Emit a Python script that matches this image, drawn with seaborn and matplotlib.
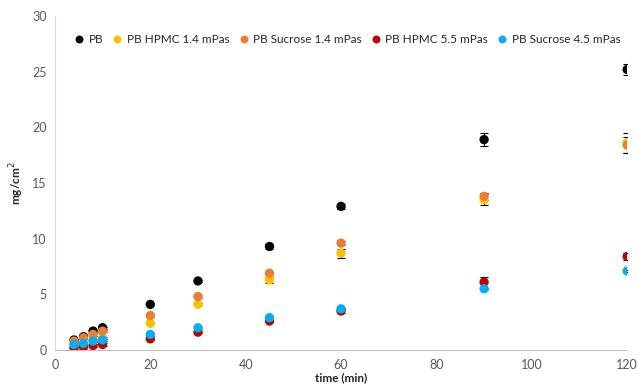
import numpy as np
import pandas as pd
import matplotlib
matplotlib.use("Agg")
import matplotlib.pyplot as plt
import seaborn as sns

# tempos de amostragem (min)
tempo = [4, 6, 8, 10, 20, 30, 45, 60, 90, 120]

# valores (mg/cm2)
pb = [0.9, 1.2, 1.7, 2.0, 4.1, 6.2, 9.3, 12.9, 18.9, 25.2]
pb_hpmc_14 = [0.5, 0.2, 0.9, 1.1, 2.4, 4.1, 6.3, 8.7, 13.5, 18.6]
pb_sucrose_14 = [0.8, 1.1, 1.4, 1.7, 3.1, 4.8, 6.9, 9.6, 13.8, 18.4]
pb_hpmc_55 = [0.2, 0.3, 0.4, 0.5, 1.0, 1.6, 2.6, 3.5, 6.1, 8.4]
pb_sucrose_45 = [0.5, 0.6, 0.8, 0.9, 1.4, 2.0, 2.9, 3.7, 5.5, 7.1]

# barras de erro (desvio)
err_pb = [0.1, 0.1, 0.1, 0.1, 0.1, 0.1, 0.2, 0.2, 0.6, 0.5]
err_hpmc_14 = [0.1, 0.1, 0.1, 0.1, 0.1, 0.1, 0.3, 0.4, 0.5, 0.9]
err_sucrose_14 = [0.1, 0.1, 0.1, 0.1, 0.1, 0.1, 0.1, 0.2, 0.3, 0.7]
err_hpmc_55 = [0.1, 0.1, 0.1, 0.1, 0.1, 0.1, 0.1, 0.2, 0.5, 0.3]
err_sucrose_45 = [0.05, 0.05, 0.05, 0.05, 0.1, 0.1, 0.1, 0.1, 0.1, 0.1]

nomes = ["PB", "PB HPMC 1.4 mPas", "PB Sucrose 1.4 mPas", "PB HPMC 5.5 mPas", "PB Sucrose 4.5 mPas"]
cores = ["#000000", "#FFC000", "#ED7D31", "#C00000", "#00B0F0"]

series = [pb, pb_hpmc_14, pb_sucrose_14, pb_hpmc_55, pb_sucrose_45]
erros = [err_pb, err_hpmc_14, err_sucrose_14, err_hpmc_55, err_sucrose_45]

sns.set_style("white")
plt.rcParams['font.family'] = ['Lato', 'DejaVu Sans']

linhas = []
for nome, vals in zip(nomes, series):
    for t, v in zip(tempo, vals):
        linhas.append({"tempo": t, "valor": v, "serie": nome})
df = pd.DataFrame(linhas)

fig = plt.figure(figsize=(6.38, 3.87), dpi=100)
ax = fig.add_axes([0.086, 0.0956, 0.897, 0.863])

# barras de erro primeiro, pontos por cima
for nome, vals, err, cor in zip(nomes, series, erros, cores):
    ax.errorbar(tempo, vals, yerr=err, fmt="none", ecolor="#000000",
                elinewidth=0.8, capsize=3, capthick=0.8, zorder=1)

sns.scatterplot(data=df, x="tempo", y="valor", hue="serie", hue_order=nomes,
                palette=cores, s=45, linewidth=0, ax=ax, zorder=2)

ax.set_xlim(0, 120)
ax.set_ylim(0, 30)
ax.set_xticks(range(0, 121, 20))
ax.set_yticks(range(0, 31, 5))
ax.tick_params(axis="both", labelsize=9, colors="#595959", length=3, width=0.8)
ax.tick_params(axis="y", length=0, pad=6)

for lado in ["top", "right"]:
    ax.spines[lado].set_visible(False)
ax.spines["left"].set_color("#D9D9D9")
ax.spines["bottom"].set_color("#BFBFBF")

ax.set_xlabel("time (min)", fontsize=8.5, fontweight="bold", labelpad=1)
ax.set_ylabel("mg/cm$^2$", fontsize=8.5, fontweight="bold", labelpad=4)

handles, labels = ax.get_legend_handles_labels()
ax.legend(handles, labels, loc="upper center", bbox_to_anchor=(0.505, 0.96), ncol=5,
          frameon=False, fontsize=8.5, handletextpad=-0.2, columnspacing=0.2,
          markerscale=0.85, borderaxespad=0)

fig.savefig("out.png", dpi=100)
